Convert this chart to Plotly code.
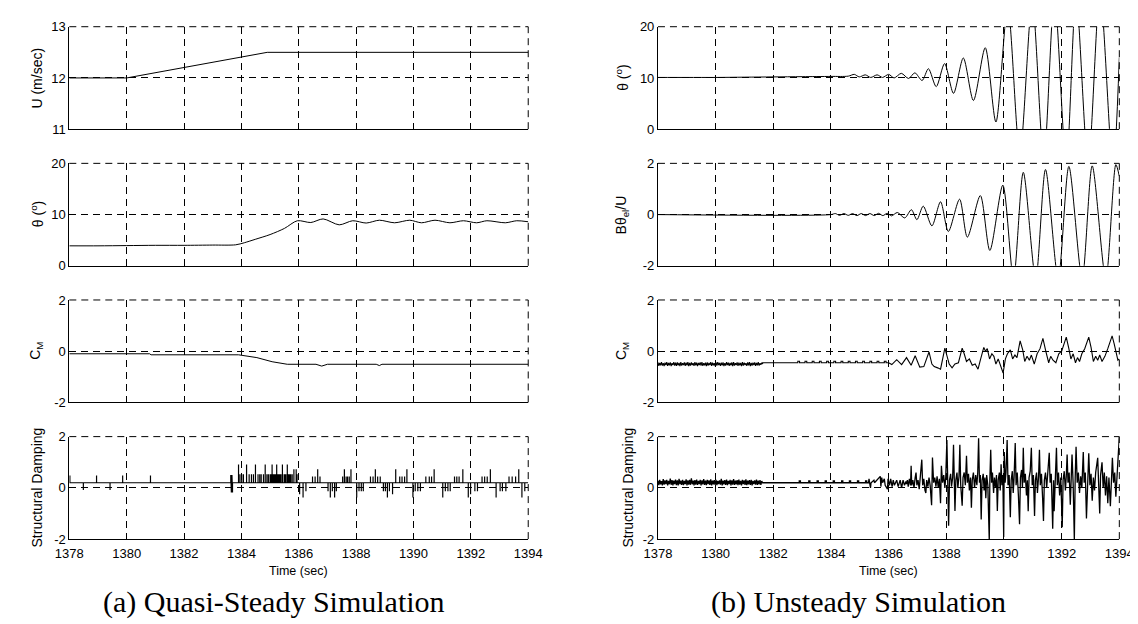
import numpy as np
import plotly.graph_objects as go

# ---------------- DATA ----------------
x_ticks = [1378, 1380, 1382, 1384, 1386, 1388, 1390, 1392, 1394]

# (a) Quasi-steady
u_t = [1378, 1380, 1384.9, 1394]
u_v = [12, 12, 12.5, 12.5]

thq_t = [1378, 1379, 1380, 1381, 1382, 1383, 1383.8, 1384.1, 1384.5, 1385.0, 1385.5, 1385.95,
         1386.42, 1386.85, 1387.41, 1387.88, 1388.35, 1388.81, 1389.34, 1389.87, 1390.28,
         1390.75, 1391.27, 1391.74, 1392.2, 1392.56, 1393.2, 1393.6, 1394]
thq_v = [3.9, 3.9, 3.95, 4.0, 4.0, 4.05, 4.1, 4.5, 5.2, 6.1, 7.3, 8.8,
         8.45, 9.15, 8.0, 8.8, 8.35, 8.9, 8.4, 8.9, 8.4,
         8.9, 8.4, 8.8, 8.4, 8.8, 8.4, 8.8, 8.6]

cmq_t = [1378, 1380.8, 1380.85, 1383.9, 1384.54, 1385.07, 1385.6, 1386.6, 1386.8, 1387.0,
         1388.7, 1388.81, 1388.9, 1394]
cmq_v = [-0.1, -0.1, -0.14, -0.14, -0.25, -0.41, -0.51, -0.51, -0.58, -0.51,
         -0.51, -0.56, -0.51, -0.51]

sdq_base = 0.2
sdq_t = [1378.02, 1378.49, 1378.95, 1379.42, 1379.86, 1380.83,
         1383.63, 1383.65, 1383.67, 1383.69,
         1383.90, 1383.95, 1384.01, 1384.07, 1384.18, 1384.27, 1384.35, 1384.42, 1384.49, 1384.58,
         1384.64, 1384.69, 1384.77, 1384.83, 1384.89, 1384.94, 1385.0, 1385.03, 1385.07, 1385.10,
         1385.13, 1385.16, 1385.19, 1385.23, 1385.26, 1385.29, 1385.32, 1385.35, 1385.38, 1385.43,
         1385.49, 1385.52, 1385.55, 1385.6, 1385.63, 1385.66, 1385.69, 1385.72, 1385.77, 1385.83,
         1385.91, 1385.94,
         1386.03, 1386.15, 1386.25, 1386.48, 1386.57, 1386.66, 1386.74,
         1387.02, 1387.10, 1387.17, 1387.25, 1387.31,
         1387.53, 1387.59, 1387.65, 1387.70, 1387.76, 1387.82,
         1388.02, 1388.10, 1388.18, 1388.25,
         1388.50, 1388.59, 1388.67, 1388.75, 1388.84,
         1388.95, 1389.02, 1389.09, 1389.16, 1389.27,
         1389.38, 1389.52, 1389.60, 1389.69, 1389.77,
         1389.98, 1390.06, 1390.15, 1390.24,
         1390.43, 1390.55, 1390.63, 1390.72,
         1391.02, 1391.11, 1391.20, 1391.28,
         1391.43, 1391.51, 1391.59, 1391.72,
         1391.91, 1391.99, 1392.14, 1392.23,
         1392.39, 1392.48, 1392.57, 1392.68,
         1392.88, 1393.02, 1393.10, 1393.22,
         1393.33, 1393.44, 1393.56, 1393.67,
         1393.78, 1393.88]
sdq_v = [0.48, -0.08, 0.48, -0.08, 0.48, 0.48,
         0.5, -0.18, 0.5, -0.18,
         0.91, 0.53, 0.53, 0.53, 0.91, 0.53, 0.53, 0.53, 0.91, 0.53,
         0.53, 0.53, 0.53, 0.91, 0.53, 0.53, 0.53, 0.53, 0.91, 0.53,
         0.53, 0.53, 0.53, 0.91, 0.53, 0.53, 0.53, 0.53, 0.53, 0.91,
         0.53, 0.53, 0.53, 0.91, 0.53, 0.53, 0.53, 0.53, 0.53, 0.73,
         0.73, 0.53,
         -0.25, -0.38, -0.13, 0.44, 0.44, 0.73, 0.44,
         -0.13, -0.38, -0.13, -0.38, -0.13,
         0.44, 0.73, 0.44, 0.44, 0.44, 0.73,
         -0.38, -0.13, -0.13, -0.13,
         0.44, 0.44, 0.73, 0.44, 0.44,
         -0.13, -0.13, -0.38, -0.13, -0.25,
         0.73, 0.44, 0.44, 0.44, 0.73,
         -0.38, -0.13, -0.13, -0.13,
         0.44, 0.44, 0.44, 0.73,
         -0.38, -0.13, -0.13, -0.13,
         0.44, 0.44, 0.44, 0.73,
         -0.38, -0.25, -0.13, -0.13,
         0.44, 0.44, 0.44, 0.73,
         -0.38, -0.13, -0.13, -0.13,
         0.44, 0.44, 0.44, 0.73,
         -0.38, -0.13]

# (b) Unsteady
thu_t = [1378, 1379, 1380, 1381, 1382, 1383, 1384, 1384.6, 1384.81, 1384.98, 1385.19, 1385.38,
         1385.6, 1385.79, 1386.0, 1386.19, 1386.44, 1386.69, 1386.91, 1387.16, 1387.38, 1387.65,
         1387.94, 1388.25, 1388.59, 1388.94, 1389.35, 1389.72, 1390.13, 1390.55, 1390.98, 1391.38,
         1391.75, 1392.16, 1392.5, 1392.92, 1393.33, 1393.78, 1394.0]
thu_v = [10.1, 10.1, 10.1, 10.15, 10.2, 10.25, 10.3, 10.35, 10.7, 10.2, 10.6, 10.1,
         10.6, 10.1, 10.7, 10.0, 10.9, 9.9, 11.0, 9.5, 11.8, 8.3,
         12.8, 7.0, 13.9, 5.6, 15.9, 1.4, 24, -5, 25, -6,
         26, -7, 26, -7, 27, -8, 14]

btu_t = [1378, 1384.0, 1384.15, 1384.3, 1384.45, 1384.6, 1384.75, 1384.9, 1385.05, 1385.2,
         1385.35, 1385.5, 1385.65, 1385.8, 1385.95, 1386.1, 1386.3, 1386.56, 1386.79, 1386.98,
         1387.2, 1387.5, 1387.8, 1388.07, 1388.46, 1388.73, 1389.18, 1389.51, 1389.96, 1390.33,
         1390.67, 1391.1, 1391.44, 1391.88, 1392.25, 1392.71, 1393.06, 1393.53, 1393.88, 1394.0]
btu_v = [0, 0, 0.04, -0.03, 0.04, -0.03, 0.04, -0.04, 0.04, -0.04,
         0.04, -0.04, 0.05, -0.04, 0.05, -0.05, 0.08, -0.13, 0.19, -0.2,
         0.33, -0.44, 0.5, -0.66, 0.6, -0.88, 0.74, -1.4, 1.15, -2.5,
         1.65, -2.5, 1.76, -2.5, 1.88, -2.5, 1.9, -2.5, 1.95, 1.5]

cmu_band_end = 1381.63
cmu_band_v = [-0.44, -0.57, -0.46, -0.55, -0.43, -0.56, -0.47, -0.58, -0.45, -0.54,
              -0.43, -0.57, -0.46, -0.55, -0.44, -0.58, -0.47, -0.54, -0.43, -0.56,
              -0.45, -0.57, -0.44, -0.55, -0.46, -0.58, -0.43, -0.56, -0.47, -0.54,
              -0.44, -0.57, -0.45, -0.55, -0.43, -0.58, -0.46, -0.56, -0.44, -0.54,
              -0.47, -0.57, -0.43, -0.55, -0.45, -0.58, -0.46, -0.54, -0.44, -0.56,
              -0.43, -0.57, -0.47, -0.55, -0.45, -0.58, -0.44, -0.56, -0.46, -0.54,
              -0.43, -0.57, -0.45, -0.55, -0.47, -0.58, -0.44, -0.56, -0.43, -0.54,
              -0.46, -0.57, -0.45, -0.55, -0.44, -0.58, -0.47, -0.56, -0.43, -0.54,
              -0.45, -0.57, -0.46, -0.55, -0.44, -0.58, -0.43, -0.56, -0.47, -0.54,
              -0.44, -0.57, -0.45, -0.55, -0.46, -0.58, -0.43, -0.56, -0.45, -0.54,
              -0.47, -0.57, -0.44, -0.55, -0.43, -0.58, -0.46, -0.56, -0.45, -0.54,
              -0.44, -0.57, -0.46, -0.55, -0.43, -0.56, -0.47, -0.53, -0.45, -0.5]
cmu_flat = -0.45
cmu_bump_v = -0.39
cmu_bump_t = [1382.85, 1383.1, 1383.35, 1383.6, 1383.85, 1384.1, 1384.35, 1384.6, 1384.85,
              1385.1, 1385.35, 1385.6, 1385.85]
cmu_t = [1386.0, 1386.11, 1386.28, 1386.45, 1386.62, 1386.78, 1386.92, 1387.08, 1387.22, 1387.4,
         1387.5, 1387.58, 1387.7, 1387.8, 1387.95, 1388.02, 1388.1, 1388.2, 1388.3, 1388.42,
         1388.55, 1388.62, 1388.7, 1388.8, 1388.9, 1389.0, 1389.1, 1389.18, 1389.3, 1389.36,
         1389.42, 1389.5, 1389.58, 1389.65, 1389.72, 1389.8, 1389.9, 1389.97, 1390.05, 1390.12,
         1390.22, 1390.3, 1390.38, 1390.45, 1390.56, 1390.65, 1390.72, 1390.8, 1390.88, 1390.95,
         1391.05, 1391.15, 1391.25, 1391.35, 1391.45, 1391.55, 1391.62, 1391.7, 1391.8, 1391.9,
         1392.0, 1392.1, 1392.16, 1392.25, 1392.32, 1392.4, 1392.48, 1392.55, 1392.62, 1392.7,
         1392.8, 1392.94, 1393.02, 1393.1, 1393.18, 1393.25, 1393.32, 1393.4, 1393.5, 1393.6,
         1393.75, 1393.82, 1393.9, 1393.95, 1394.0]
cmu_v = [-0.45, -0.52, -0.33, -0.52, -0.25, -0.55, -0.18, -0.62, -0.6, -0.03,
         -0.5, -0.6, -0.65, -0.7, 0.12, -0.15, -0.5, -0.65, -0.5, -0.45,
         0.12, -0.1, -0.4, -0.3, -0.55, -0.5, -0.7, -0.35, 0.15, 0.0,
         0.1, -0.3, -0.1, -0.2, -0.5, -0.3, -0.6, -0.85, -0.3, -0.1,
         0.05, -0.3, -0.15, -0.25, 0.4, 0.05, -0.4, -0.2, -0.35, -0.15,
         -0.5, -0.1, 0.1, 0.5, 0.0, -0.45, -0.2, -0.35, -0.45, -0.1,
         0.0, 0.3, 0.55, 0.1, -0.3, -0.1, -0.45, -0.25, -0.4, -0.1,
         0.1, 0.55, 0.15, -0.4, -0.2, -0.35, -0.15, -0.4, -0.2, 0.1,
         0.6, 0.3, -0.1, -0.35, -0.3]

sdu_band_end = 1381.63
sdu_band_v = [0.28, 0.11, 0.31, 0.14, 0.26, 0.1, 0.34, 0.13, 0.29, 0.15,
              0.31, 0.1, 0.27, 0.14, 0.36, 0.12, 0.3, 0.1, 0.28, 0.15,
              0.32, 0.11, 0.29, 0.1, 0.35, 0.14, 0.28, 0.12, 0.31, 0.11,
              0.27, 0.15, 0.33, 0.1, 0.29, 0.13, 0.31, 0.12, 0.37, 0.14,
              0.28, 0.1, 0.3, 0.13, 0.32, 0.12, 0.27, 0.15, 0.31, 0.1,
              0.29, 0.14, 0.34, 0.12, 0.28, 0.11, 0.31, 0.15, 0.29, 0.12,
              0.33, 0.1, 0.28, 0.14, 0.3, 0.12, 0.31, 0.11, 0.27, 0.15,
              0.29, 0.13, 0.35, 0.1, 0.28, 0.14, 0.3, 0.12, 0.32, 0.11,
              0.27, 0.15, 0.31, 0.1, 0.29, 0.13, 0.34, 0.12, 0.28, 0.14,
              0.3, 0.11, 0.32, 0.13, 0.27, 0.1, 0.31, 0.15, 0.29, 0.12,
              0.33, 0.11, 0.28, 0.14, 0.3, 0.12, 0.31, 0.1, 0.27, 0.15,
              0.29, 0.13, 0.32, 0.12, 0.28, 0.14, 0.3, 0.12, 0.26, 0.2]
sdu_base = 0.2
sdu_mark_v = 0.27
sdu_mark_t = [1382.9, 1383.23, 1383.52, 1383.8, 1384.08, 1384.37, 1384.64, 1384.92, 1385.2]
sdu_t = [1385.3, 1385.32, 1385.34, 1385.37, 1385.39, 1385.49, 1385.51, 1385.71, 1385.73, 1385.76,
         1385.79, 1385.85, 1385.88, 1385.96, 1385.98, 1386.03, 1386.07, 1386.12, 1386.16, 1386.2,
         1386.28, 1386.33, 1386.4, 1386.45, 1386.5, 1386.55, 1386.6,
         1386.62, 1386.65, 1386.68, 1386.72, 1386.76, 1386.78, 1386.8, 1386.84, 1386.88, 1386.92,
         1386.95, 1386.98, 1387.02, 1387.06, 1387.1, 1387.15, 1387.18, 1387.22, 1387.26, 1387.29,
         1387.32, 1387.36, 1387.4, 1387.44, 1387.49, 1387.52, 1387.56, 1387.6, 1387.64, 1387.68,
         1387.72, 1387.76, 1387.8, 1387.83, 1387.87, 1387.91, 1387.95, 1387.98, 1388.02, 1388.05,
         1388.08, 1388.11, 1388.15, 1388.18, 1388.22, 1388.25, 1388.28, 1388.3, 1388.33, 1388.37,
         1388.4, 1388.44, 1388.47, 1388.5, 1388.55, 1388.58, 1388.62, 1388.66, 1388.7, 1388.73,
         1388.77, 1388.8, 1388.84, 1388.87, 1388.9, 1388.94, 1388.98, 1389.02, 1389.06, 1389.09,
         1389.12, 1389.15, 1389.18, 1389.21, 1389.24, 1389.28, 1389.31, 1389.34, 1389.37, 1389.4,
         1389.44, 1389.49, 1389.51, 1389.54, 1389.57, 1389.6, 1389.64, 1389.67, 1389.71, 1389.74,
         1389.77, 1389.8, 1389.84, 1389.87, 1389.9, 1389.93, 1389.96, 1389.99, 1390.01, 1390.04,
         1390.07, 1390.11, 1390.14, 1390.18, 1390.22, 1390.25, 1390.29, 1390.32, 1390.35, 1390.39,
         1390.42, 1390.46, 1390.5, 1390.54, 1390.57, 1390.61, 1390.64, 1390.67, 1390.7, 1390.74,
         1390.78, 1390.81, 1390.84, 1390.87, 1390.91, 1390.95, 1390.98, 1391.02, 1391.06, 1391.09,
         1391.13, 1391.16, 1391.2, 1391.23, 1391.26, 1391.3, 1391.34, 1391.37, 1391.4, 1391.44,
         1391.48, 1391.52, 1391.57, 1391.6, 1391.64, 1391.69, 1391.72, 1391.74, 1391.77, 1391.82,
         1391.85, 1391.89, 1391.93, 1391.97, 1392.02, 1392.05, 1392.09, 1392.13, 1392.16, 1392.19,
         1392.22, 1392.26, 1392.3, 1392.33, 1392.36, 1392.4, 1392.44, 1392.47, 1392.5, 1392.54,
         1392.58, 1392.62, 1392.66, 1392.7, 1392.75, 1392.78, 1392.82, 1392.86, 1392.9, 1392.94,
         1392.98, 1393.02, 1393.06, 1393.1, 1393.14, 1393.18, 1393.25, 1393.28, 1393.32, 1393.35,
         1393.4, 1393.44, 1393.48, 1393.52, 1393.56, 1393.6, 1393.64, 1393.69, 1393.72, 1393.76,
         1393.8, 1393.84, 1393.88, 1393.92, 1393.96, 1394.0]
sdu_v = [0.2, 0.35, 0.2, 0.0, 0.2, 0.3, 0.2, 0.45, 0.05, 0.4,
         0.2, 0.35, 0.1, -0.05, 0.35, 0.1, 0.35, 0.05, 0.3, 0.1,
         0.3, 0.05, 0.3, 0.0, 0.3, 0.1, 0.25,
         0.15, 0.3, 0.05, 0.35, 0.1, 0.86, 0.1, 0.3, 0.0, 0.4,
         0.6, 0.1, 0.3, -0.05, 0.35, 1.1, 0.1, 0.35, -0.1, -0.2,
         0.3, 0.05, 0.4, 0.1, -0.68, 1.18, 0.2, 0.4, 0.05, 0.45,
         0.0, 0.35, -0.6, 0.86, 0.2, 0.5, 0.0, 0.4, 1.87, 0.1,
         -1.48, 0.3, 0.55, 0.05, 0.4, 1.68, 0.1, -0.9, 0.3, 0.6,
         0.0, 0.45, 1.68, 0.1, -0.7, 0.4, 0.6, 0.1, 1.25, 0.2,
         0.55, -0.1, 0.4, -0.78, 0.3, 0.6, 0.0, 0.5, 0.1, 0.6,
         1.94, 0.2, 0.5, -1.23, 0.3, 0.55, -0.1, 0.4, -0.4, 0.5,
         0.1, -2.1, 0.3, 1.49, 0.2, 0.6, -0.2, 0.4, 0.0, 0.5,
         -0.9, 0.3, 0.6, -0.1, 0.92, 0.1, 0.5, -1.92, 1.4, 0.2,
         0.6, 1.87, 0.1, 0.5, -1.15, 0.3, 0.65, -0.2, 0.4, 1.75,
         0.1, 0.6, -0.3, -1.42, 0.4, 0.7, 0.0, 1.56, 0.2, 0.55,
         -0.3, 0.3, -0.91, 0.4, 0.65, 1.56, 0.1, 0.5, -1.1, 0.3,
         0.6, -0.2, 0.45, 1.49, 0.1, 0.55, -0.4, -1.29, 0.3, 0.6,
         0.0, 0.5, 1.37, 0.2, 0.55, -1.6, 0.3, -0.91, 0.4, 1.56,
         0.1, 0.6, -0.3, 0.4, -1.54, 0.3, 0.65, -0.1, 0.45, 1.3,
         0.2, 0.6, -0.66, 0.3, 1.3, 0.1, -2.05, 0.4, 1.6, 0.2,
         0.6, -0.2, 0.45, 0.0, 1.4, 0.2, 0.6, -1.2, 0.4, 1.35,
         0.1, 0.55, -0.5, 0.4, -0.1, 0.6, 1.17, 0.2, -1.0, 0.5,
         1.0, 0.0, 0.6, -0.3, 0.45, -0.6, 0.4, -0.72, 0.3, 1.17,
         0.2, 0.6, -0.35, 0.5, 0.9, 2.0]

y_titles_left = ["U (m/sec)", "θ (<sup>o</sup>)", "C<sub>M</sub>", "Structural Damping"]
y_titles_right = ["θ (<sup>o</sup>)", "Bθ<sub>el</sub>/U", "C<sub>M</sub>", "Structural Damping"]
y_ticks_left = [[11, 12, 13], [0, 10, 20], [-2, 0, 2], [-2, 0, 2]]
y_ticks_right = [[0, 10, 20], [-2, 0, 2], [-2, 0, 2], [-2, 0, 2]]
captions = ["(a) Quasi-Steady Simulation", "(b) Unsteady Simulation"]
x_title = "Time (sec)"

# ---------------- BUILD SERIES ----------------
def spike_series(t0, t1, base, ts, vs):
    xs, ys = [t0], [base]
    for t, v in sorted(zip(ts, vs)):
        xs += [t, t, t]
        ys += [base, v, base]
    xs.append(t1)
    ys.append(base)
    return xs, ys

def bump_series(t0, t1, base, ts, v, dur):
    xs, ys = [t0], [base]
    for t in ts:
        xs += [t, t, t + dur, t + dur]
        ys += [base, v, v, base]
    xs.append(t1)
    ys.append(base)
    return xs, ys

sdq_x, sdq_y = spike_series(1378, 1394, sdq_base, sdq_t, sdq_v)

cm_band_t = list(np.linspace(1378, cmu_band_end, len(cmu_band_v)))
bx, by = bump_series(cmu_band_end, 1386.0, cmu_flat, cmu_bump_t, cmu_bump_v, 0.06)
cmu_x = cm_band_t + bx + cmu_t
cmu_y = cmu_band_v + by + cmu_v

sd_band_t = list(np.linspace(1378, sdu_band_end, len(sdu_band_v)))
mx, my = bump_series(sdu_band_end, 1385.3, sdu_base, sdu_mark_t, sdu_mark_v, 0.04)
sdu_x = sd_band_t + mx + sdu_t
sdu_y = sdu_band_v + my + sdu_v

# ---------------- FIGURE ----------------
W, H = 1138, 624
x_dom = {"L": [48.5 / W, 519 / W], "R": [652 / W, 1125 / W]}
rows_px = [(12, 117), (152, 257), (292, 397), (432, 537)]
y_dom = [[1 - b / H, 1 - t / H] for t, b in rows_px]

series = [
    ("L", 0, u_t, u_v, "linear", [11, 13], 1),
    ("L", 1, thq_t, thq_v, "spline", [0, 20], 1),
    ("L", 2, cmq_t, cmq_v, "linear", [-2, 2], 1),
    ("L", 3, sdq_x, sdq_y, "linear", [-2, 2], 1.2),
    ("R", 0, thu_t, thu_v, "spline", [0, 20], 1),
    ("R", 1, btu_t, btu_v, "spline", [-2, 2], 1),
    ("R", 2, cmu_x, cmu_y, "linear", [-2, 2], 1.1),
    ("R", 3, sdu_x, sdu_y, "linear", [-2, 2], 1.3),
]

fig = go.Figure()
tick_font = dict(family="Liberation Sans, Arial, sans-serif", size=13, color="black")
grid_dash = "7px,5px"
shapes = []
annotations = []

for k, (side, row, xs, ys, shape, yr, lw) in enumerate(series, start=1):
    sfx = "" if k == 1 else str(k)
    line = dict(color="black", width=lw, shape=shape)
    if shape == "spline":
        line["smoothing"] = 0.8
    fig.add_trace(go.Scatter(
        x=xs, y=ys, mode="lines", line=line,
        xaxis="x" + sfx, yaxis="y" + sfx, showlegend=False, hoverinfo="skip"))
    yt = (y_ticks_left if side == "L" else y_ticks_right)[row]
    common = dict(showline=True, linecolor="black", linewidth=1, mirror=False,
                  showgrid=True, gridcolor="black", gridwidth=1, griddash=grid_dash,
                  zeroline=False, ticks="inside", ticklen=4, tickcolor="black",
                  tickfont=tick_font, fixedrange=True)
    fig.update_layout({
        "xaxis" + sfx: dict(domain=x_dom[side], anchor="y" + sfx, range=[1378, 1394],
                            tickmode="array", tickvals=x_ticks,
                            ticktext=[str(v) for v in x_ticks],
                            ticklabelstandoff=2,
                            showticklabels=(row == 3), **common),
        "yaxis" + sfx: dict(domain=y_dom[row], anchor="x" + sfx, range=yr,
                            tickmode="array", tickvals=yt,
                            ticktext=[str(v) for v in yt], **common),
    })
    for (x0, x1, y0, y1) in [(0, 1, 1, 1), (1, 1, 0, 1)]:
        shapes.append(dict(type="line", xref="x" + sfx + " domain", yref="y" + sfx + " domain",
                           x0=x0, x1=x1, y0=y0, y1=y1,
                           line=dict(color="black", width=1, dash=grid_dash)))
    title = (y_titles_left if side == "L" else y_titles_right)[row]
    if side == "L":
        tx = 15
    else:
        tx = 621 if row == 3 else 615
    annotations.append(dict(text=title, x=tx / W, y=(y_dom[row][0] + y_dom[row][1]) / 2,
                            xref="paper", yref="paper", showarrow=False, textangle=-90,
                            xanchor="center", yanchor="middle",
                            font=dict(family="Liberation Sans, Arial, sans-serif", size=14,
                                      color="black")))

for side, cap, cx in [("L", captions[0], 258), ("R", captions[1], 858)]:
    mid = (x_dom[side][0] + x_dom[side][1]) / 2
    annotations.append(dict(text=x_title, x=mid, y=1 - 570 / H, xref="paper", yref="paper",
                            showarrow=False, xanchor="center", yanchor="middle",
                            font=dict(family="Liberation Sans, Arial, sans-serif", size=12.5,
                                      color="black")))
    annotations.append(dict(text=cap, x=cx / W, y=1 - 601 / H, xref="paper", yref="paper",
                            showarrow=False, xanchor="center", yanchor="middle",
                            font=dict(family="Liberation Serif, Times New Roman, serif", size=30,
                                      color="black")))

fig.update_layout(width=W, height=H, margin=dict(l=0, r=0, t=0, b=0),
                  paper_bgcolor="white", plot_bgcolor="white",
                  shapes=shapes, annotations=annotations)

fig.write_html("out.html")
